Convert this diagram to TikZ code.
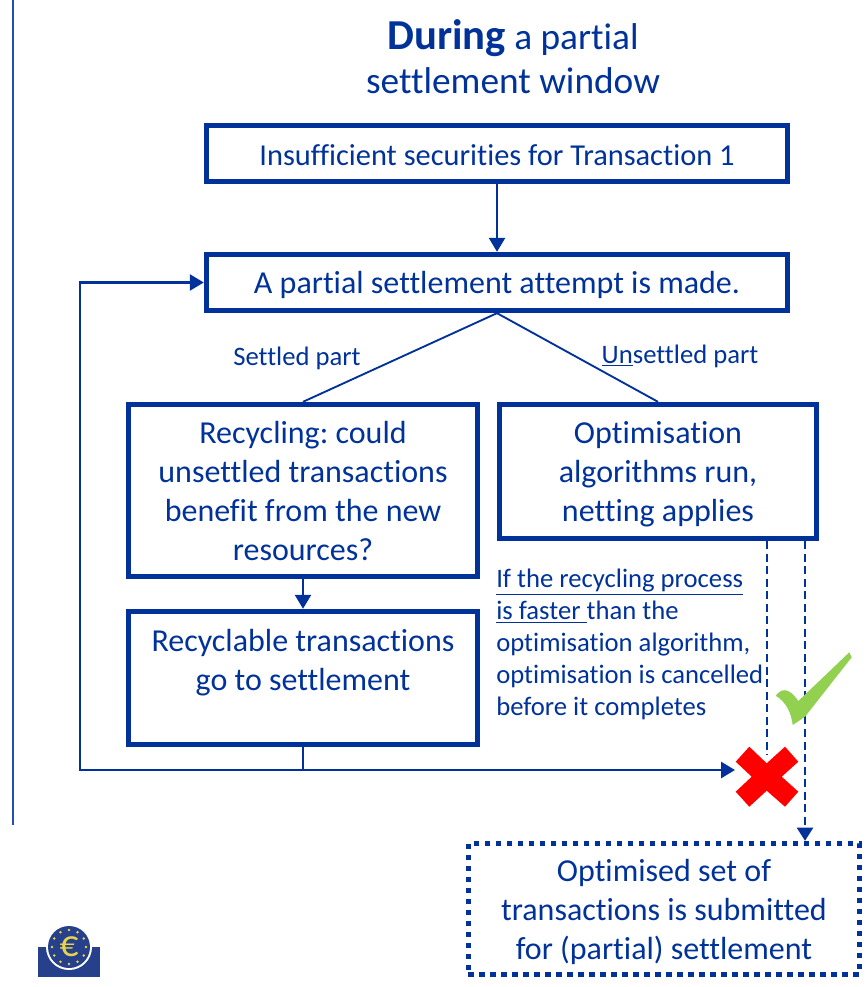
\documentclass[tikz,border=0pt]{standalone}
\usepackage{fontspec}
\setmainfont[Ligatures=NoCommon]{Carlito}
\usepackage{xcolor}
\usetikzlibrary{arrows.meta}
\definecolor{ecbblue}{HTML}{003299}
\definecolor{ecbline}{HTML}{2050B0}
\definecolor{crossred}{HTML}{FF0000}
\definecolor{checkgreen}{HTML}{92D050}
\definecolor{logoblue}{HTML}{27408B}
\definecolor{logoyellow}{HTML}{E8D44A}
\newcommand{\toplift}[1]{\rule{0pt}{#1}}
\tikzset{
  flowbox/.style={draw=ecbblue, line width=4.2pt, text=ecbblue, align=center, inner sep=0pt,
                  font=\fontsize{24}{29.25}\selectfont\frenchspacing},
  flowline/.style={draw=ecbblue, line width=1.9pt},
  thinline/.style={draw=ecbblue, line width=1.4pt},
  flowarrow/.style={flowline, -{Triangle[length=10.5pt,width=12pt]}},
  dashline/.style={flowline, line width=2.1pt, dash pattern=on 6pt off 3.4pt},
  smalltext/.style={text=ecbblue, font=\fontsize{20}{24}\selectfont, inner sep=0pt},
}
\begin{document}
\begin{tikzpicture}[x=0.75pt, y=-0.75pt]
\useasboundingbox (0,0) rectangle (865,987);
%
\draw [ecbline, line width=1.4pt] (13,0) -- (13,825);
%
\node (title) [text=ecbblue, align=center, font=\fontsize{28}{33}\selectfont] at (513,57)
  {{\fontsize{32}{33}\selectfont\textbf{During}} a partial\\settlement window};
%
\node (attempt1) [flowbox, font=\fontsize{22.8}{29.25}\selectfont, minimum width=435.6pt, minimum height=41.8pt] at (497,153.5)
  {\toplift{18pt}Insufficient securities for Transaction 1};
\node (attempt2) [flowbox, minimum width=435.6pt, minimum height=41.8pt] at (497,282.5)
  {\toplift{21pt}A partial settlement attempt is made.};
\node (recycle) [flowbox, minimum width=261.6pt, minimum height=128.8pt] at (303,490.5)
  {\toplift{18pt}Recycling: could\\unsettled transactions\\benefit from the new\\resources?};
\node (optim) [flowbox, minimum width=237.6pt, minimum height=100.3pt] at (658,471.5)
  {\toplift{21pt}Optimisation\\algorithms run,\\netting applies};
\node (settle) [flowbox, minimum width=261.6pt, minimum height=99.6pt] at (303,678)
  {\toplift{27pt}Recyclable transactions\\go to settlement\\ \strut};
\node (submit) [flowbox, dash pattern=on 4pt off 4.25pt, minimum width=293.3pt, minimum height=98pt] at (664,909)
  {\toplift{21pt}Optimised set of\\transactions is submitted\\for (partial) settlement};
%
\node (settledlab) [smalltext] at (297,358) {Settled part};
\node (unsettledlab) [smalltext] at (680,356) {\underline{Un}settled part};
\node (faster) [smalltext, align=left, anchor=north west] at (496,569)
  {\underline{If the recycling process}\\\underline{is faster\ }than the\\optimisation algorithm,\\optimisation is cancelled\\before it completes};
%
\coordinate (cross) at (767,777);
\coordinate (crossleft) at (735,770);
\coordinate (optright) at (805,541);
\coordinate (merge) at (303,770);
\coordinate (loop) at (80,770);
%
\draw [flowarrow] (attempt1.south) -- (attempt2.north);
\draw [thinline] (recycle.north) -- (attempt2.south) -- (optim.north);
\draw [flowarrow] (recycle.south) -- (settle.north);
\draw [flowline] (settle.south) -- (merge);
\draw [flowarrow, line width=2.1pt] (merge) -- (crossleft);
\draw [flowarrow] (merge) -- (loop) |- (attempt2.west);
\draw [dashline] (cross |- optim.south) -- (767,755);
\draw [dashline, -{Triangle[length=10pt,width=12pt]}] (optright) -- (optright |- submit.north);
%
\fill [crossred] (749.3,746.7) -- (766.7,763.3) -- (785,746.7) -- (798.3,761.7) -- (781.7,776.7)
  -- (798.3,791.7) -- (785,806.7) -- (766.7,790.7) -- (749.3,806.7) -- (735.7,791.7)
  -- (751.7,776.7) -- (735.7,761.7) -- cycle;
\fill [checkgreen] (775.7,695.7) .. controls (781,689) and (788,686) .. (798.3,701) -- (849.3,652.3)
  -- (851.7,657.3) -- (805,716.7) -- (792.7,725) .. controls (791,712) and (786,702) .. (775.7,695.7) -- cycle;
%
\fill [logoblue] (38,947) rectangle (100,977);
\fill [white] (69,947) circle [radius=23];
\fill [logoblue] (69,947) circle [radius=21];
\foreach \a in {0,30,...,330}
  \fill [logoyellow] (69,947) ++(\a:17) circle [radius=1.4];
\node (euro) [text=logoyellow, inner sep=0pt, font=\fontsize{28}{28}\selectfont] at (69,947) {€};
%
\end{tikzpicture}
\end{document}
